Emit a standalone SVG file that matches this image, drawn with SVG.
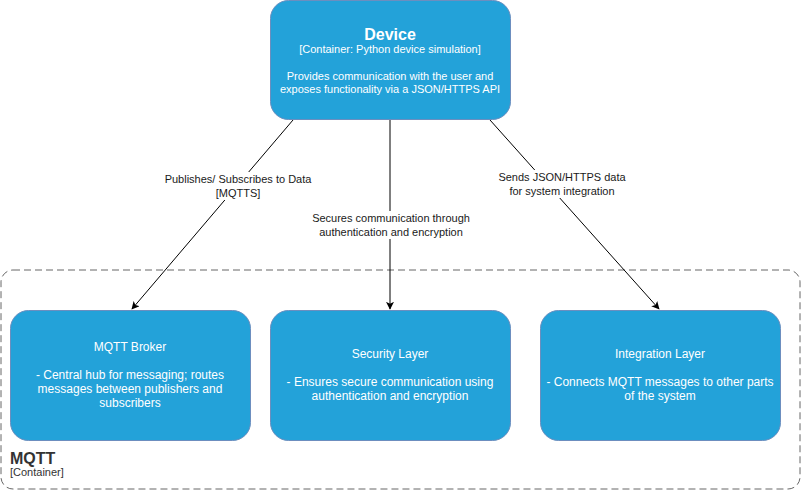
<svg xmlns="http://www.w3.org/2000/svg" width="801" height="491" viewBox="0 0 801 491">
<style>
.box{fill:#23A2D9;stroke:#6C8EBF;stroke-width:1}
.t{font-family:"Liberation Sans",Arial,sans-serif;fill:#ffffff;text-anchor:middle}
.lbl{font-family:"Liberation Sans",Arial,sans-serif;font-size:11px;fill:#1a1a1a;text-anchor:middle}
.edge{stroke:#000;stroke-width:1;fill:none}
</style>
<defs>
<marker id="arr" viewBox="0 0 10 10" refX="9" refY="5" markerWidth="8" markerHeight="8" markerUnits="userSpaceOnUse" orient="auto">
<path d="M0,0 L10,5 L0,10 L2.5,5 Z" fill="#000"/>
</marker>
</defs>
<rect width="801" height="491" fill="#ffffff"/>
<g id="mqtt-container">
<rect x="1" y="270" width="799" height="219" rx="12" fill="none" stroke="#666666" stroke-dasharray="7 4"/>
<text x="10" y="464" font-family="Liberation Sans,Arial,sans-serif" font-size="16" font-weight="bold" fill="#333333">MQTT</text>
<text x="10" y="476" font-family="Liberation Sans,Arial,sans-serif" font-size="11" fill="#333333">[Container]</text>
</g>
<g id="connectors">
<line class="edge" x1="293" y1="120" x2="132" y2="309" marker-end="url(#arr)"/>
<line class="edge" x1="390" y1="120" x2="390" y2="309" marker-end="url(#arr)"/>
<line class="edge" x1="490" y1="120" x2="659" y2="309" marker-end="url(#arr)"/>
<rect x="162" y="172" width="152" height="28" fill="#ffffff"/>
<text class="lbl" x="238" y="183">Publishes/ Subscribes to Data</text>
<text class="lbl" x="238" y="197">[MQTTS]</text>
<rect x="310" y="211" width="162" height="28" fill="#ffffff"/>
<text class="lbl" x="391" y="222">Secures communication through</text>
<text class="lbl" x="391" y="236">authentication and encryption</text>
<rect x="486" y="170" width="152" height="28" fill="#ffffff"/>
<text class="lbl" x="562" y="181">Sends JSON/HTTPS data</text>
<text class="lbl" x="562" y="195">for system integration</text>
</g>
<g id="device">
<rect class="box" x="270.5" y="0.5" width="240" height="119" rx="18"/>
<text class="t" x="390" y="40" font-size="16" font-weight="bold">Device</text>
<text class="t" x="390" y="53" font-size="11">[Container: Python device simulation]</text>
<text class="t" x="390" y="80" font-size="11">Provides communication with the user and</text>
<text class="t" x="390" y="93" font-size="11">exposes functionality via a JSON/HTTPS API</text>
</g>
<g id="mqtt-broker">
<rect class="box" x="10.5" y="310.5" width="240" height="130" rx="18"/>
<text class="t" x="130" y="351" font-size="12">MQTT Broker</text>
<text class="t" x="130" y="379" font-size="12">- Central hub for messaging; routes</text>
<text class="t" x="130" y="393" font-size="12">messages between publishers and</text>
<text class="t" x="130" y="407" font-size="12">subscribers</text>
</g>
<g id="security-layer">
<rect class="box" x="270.5" y="310.5" width="240" height="130" rx="18"/>
<text class="t" x="390" y="358" font-size="12">Security Layer</text>
<text class="t" x="390" y="386" font-size="12">- Ensures secure communication using</text>
<text class="t" x="390" y="400" font-size="12">authentication and encryption</text>
</g>
<g id="integration-layer">
<rect class="box" x="540.5" y="310.5" width="240" height="130" rx="18"/>
<text class="t" x="660" y="358" font-size="12">Integration Layer</text>
<text class="t" x="660" y="386" font-size="12">- Connects MQTT messages to other parts</text>
<text class="t" x="660" y="400" font-size="12">of the system</text>
</g>
</svg>
